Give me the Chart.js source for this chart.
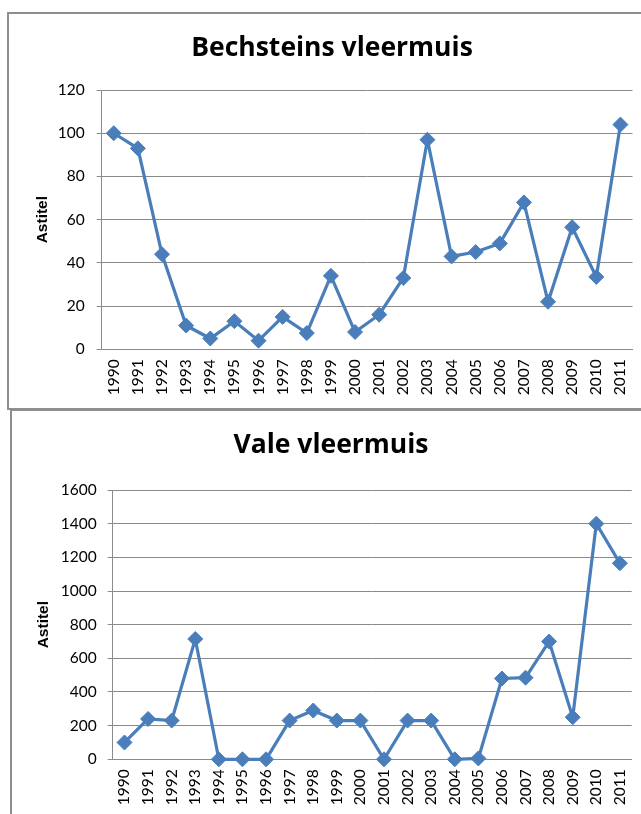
<!DOCTYPE html>
<html>
<head>
<meta charset="utf-8">
<script src="https://cdn.jsdelivr.net/npm/chart.js@4"></script>
<style>
  html, body { margin: 0; padding: 0; background: #ffffff; overflow: hidden; width: 641px; height: 814px; }
  .box { position: absolute; border: 2px solid #8e8e8e; background: #fff; }
  #box1 { left: 7px; top: 12px; width: 646px; height: 394px; }
  #box2 { left: 10px; top: 409px; width: 638px; height: 420px; }
  canvas { display: block; }
</style>
</head>
<body>
<div class="box" id="box1"><canvas id="c1" width="646" height="394"></canvas></div>
<div class="box" id="box2"><canvas id="c2" width="638" height="403"></canvas></div>
<script>
const years = ['1990','1991','1992','1993','1994','1995','1996','1997','1998','1999','2000',
               '2001','2002','2003','2004','2005','2006','2007','2008','2009','2010','2011'];
const bechsteinValues = [100, 93, 44, 11, 5, 13, 4, 15, 7.5, 34, 8, 16, 33, 97, 43, 45, 49, 68, 22, 56.5, 33.5, 104];
const valeValues = [100, 240, 230, 715, 0, 0, 0, 230, 290, 230, 230, 0, 230, 230, 0, 5, 480, 485, 700, 250, 1400, 1165];
const bechsteinTicks = { min: 0, max: 120, step: 20 };
const valeTicks = { min: 0, max: 1600, step: 200 };
const titles = ['Bechsteins vleermuis', 'Vale vleermuis'];
const axisTitle = 'Astitel';

const BLUE = '#4a7ebb';
const GRID = '#8a8a8a';
const TICKFONT = { family: 'Lato', size: 15.5 };

function makeChart(id, title, values, ticks, L) {
  return new Chart(document.getElementById(id), {
    type: 'line',
    data: {
      labels: years,
      datasets: [{
        data: values,
        borderColor: BLUE,
        backgroundColor: BLUE,
        borderWidth: 3.2,
        tension: 0,
        pointStyle: 'rectRot',
        pointRadius: 7.5,
        pointHoverRadius: 7.5,
        pointBorderWidth: 1,
        pointBackgroundColor: BLUE,
        pointBorderColor: BLUE,
        clip: false
      }]
    },
    options: {
      responsive: false,
      devicePixelRatio: 1,
      animation: false,
      events: [],
      layout: { padding: { left: L.pad, right: L.pad, top: 0, bottom: 0 } },
      plugins: {
        legend: { display: false },
        tooltip: { enabled: false },
        title: {
          display: true,
          text: title,
          color: '#000',
          font: { family: 'Open Sans', size: 26.5, weight: 'bold', lineHeight: 1.25 },
          padding: { top: L.titleTop, bottom: L.titleBottom }
        }
      },
      scales: {
        x: {
          offset: true,
          grid: { display: false, drawTicks: false, offset: true },
          border: { display: true, color: GRID, width: 1 },
          ticks: {
            autoSkip: false, minRotation: 90, maxRotation: 90,
            color: '#000', font: TICKFONT, padding: 10
          },
          afterFit: s => { s.height = L.xHeight; }
        },
        y: {
          min: ticks.min, max: ticks.max,
          grid: { color: GRID, lineWidth: 1, drawTicks: true, tickLength: 5 },
          border: { display: true, color: GRID, width: 1 },
          ticks: {
            stepSize: ticks.step, color: '#000', font: TICKFONT, padding: L.yPad,
            callback: v => String(v)
          },
          title: {
            display: true, text: axisTitle, color: '#000',
            font: { family: 'Liberation Sans', size: 15.5, weight: 'bold', lineHeight: 1.2 },
            padding: { top: L.yTitlePad, bottom: 0 }
          },
          afterFit: s => { s.width = L.yWidth; }
        }
      }
    }
  });
}

makeChart('c1', titles[0], bechsteinValues, bechsteinTicks, {
  pad: 22.5, titleTop: 17.4, titleBottom: 25.5, xHeight: 58.7, yWidth: 70.2, yPad: 12, yTitlePad: 2.2
});
makeChart('c2', titles[1], valeValues, valeTicks, {
  pad: 18.3, titleTop: 17.4, titleBottom: 28.5, xHeight: 54.7, yWidth: 82.4, yPad: 11, yTitlePad: 4.4
});
</script>
</body>
</html>
